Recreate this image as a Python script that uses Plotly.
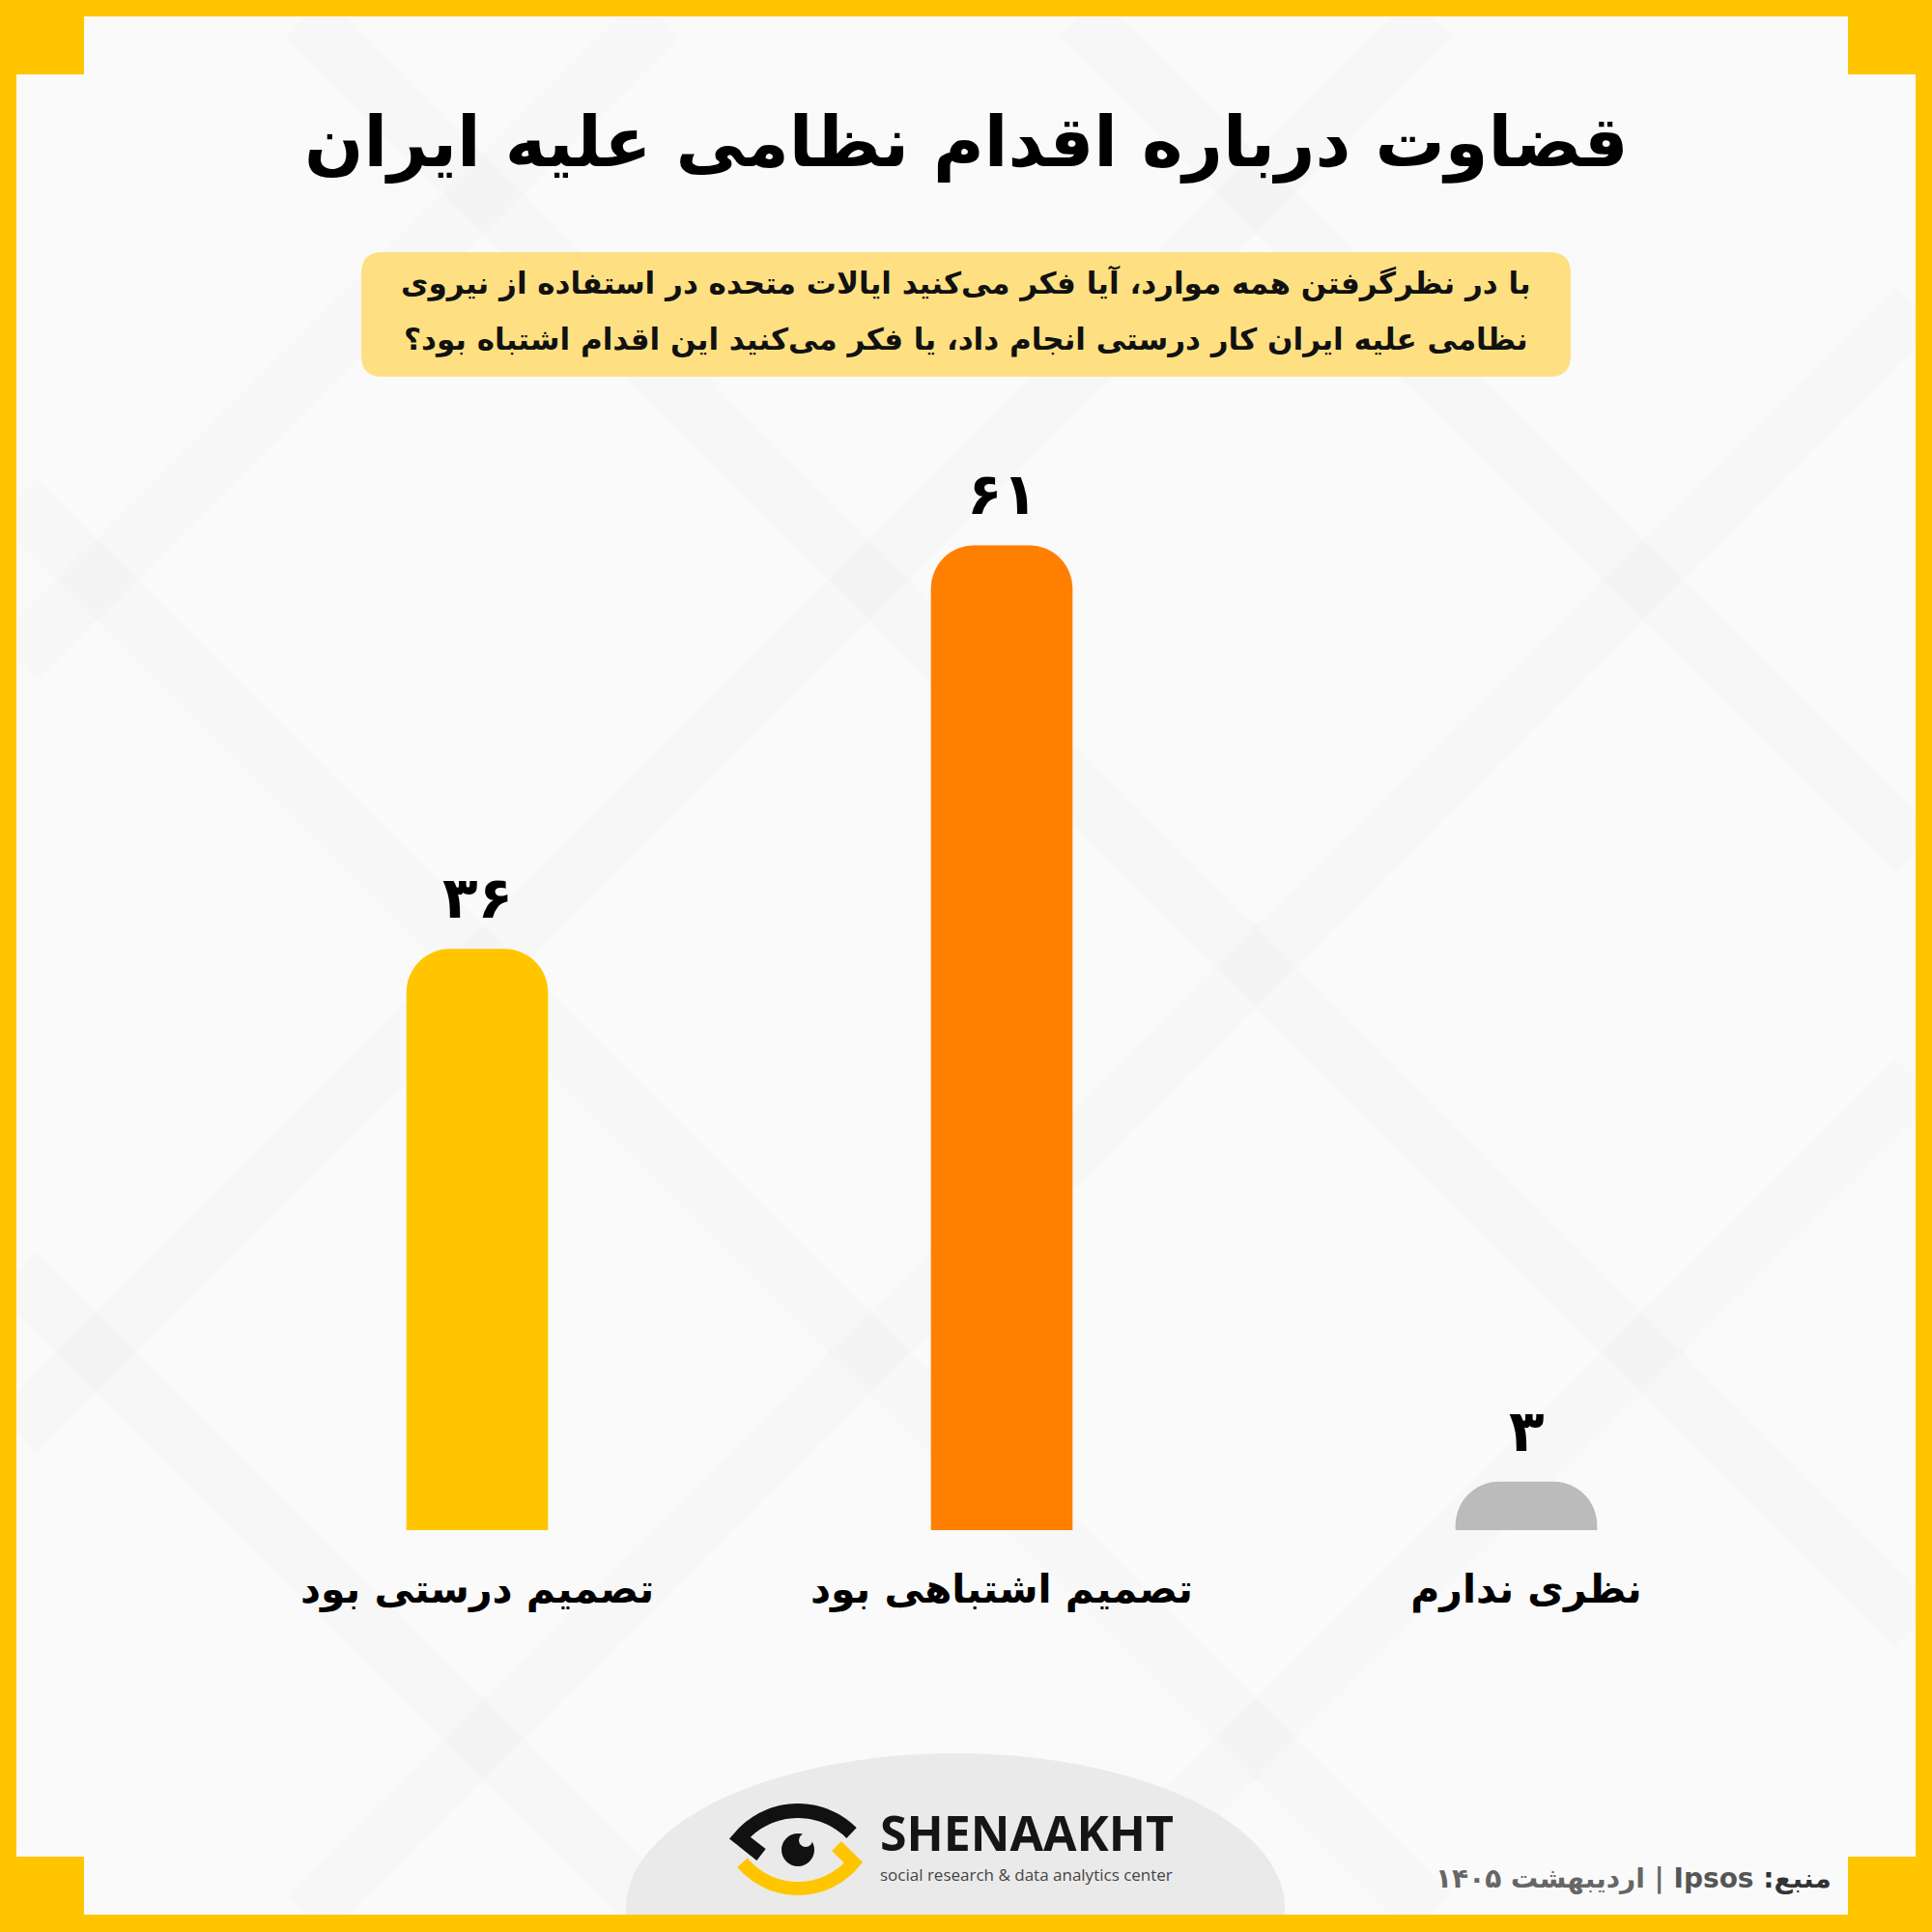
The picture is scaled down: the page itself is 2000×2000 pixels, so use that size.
import numpy as np
import plotly.graph_objects as go

# ---------------- data ----------------
categories = ["تصمیم درستی بود", "تصمیم اشتباهی بود", "نظری ندارم"]
values = [36, 61, 3]
bar_colors = ["#FFC600", "#FF8000", "#BBBBBB"]

title_text = "قضاوت درباره اقدام نظامی علیه ایران"
question_line1 = "با در نظر\u200cگرفتن همه موارد، آیا فکر می\u200cکنید ایالات متحده در استفاده از نیروی"
question_line2 = "نظامی علیه ایران کار درستی انجام داد، یا فکر می\u200cکنید این اقدام اشتباه بود؟\u200f"
source_text = ("<span style='color:#666666'><b>اردیبهشت ۱۴۰۵ | </b></span>"
               "<span style='color:#555555'><b>Ipsos</b></span>"
               "<span style='color:#333333'><b> :منبع</b></span>")
brand_name = "SHENAAKHT"
brand_sub = "social research & data analytics center"

W = H = 2000
YELLOW = "#FFC600"
BG = "#FAFAFA"
FA = "DejaVu Sans"


def fa_digits(n):
    return str(n).translate(str.maketrans("0123456789", "۰۱۲۳۴۵۶۷۸۹"))


def px(x):
    return x / W


def py(y):
    return 1 - y / H


def rect(x0, y0, x1, y1, color, layer="below"):
    return dict(type="rect", xref="paper", yref="paper", x0=px(x0), x1=px(x1),
                y0=py(y1), y1=py(y0), fillcolor=color, line=dict(width=0), layer=layer)


def path_from(points, close=False):
    s = "M " + " L ".join(f"{px(x):.5f},{py(y):.5f}" for x, y in points)
    return s + (" Z" if close else "")


shapes = []
# white card (cross shape)
shapes.append(rect(17, 77, 1983, 1922, BG))
shapes.append(rect(87, 17, 1913, 1982, BG))

# very faint diagonal background bands
X0, X1, Y0, Y1 = 17, 1983, 17, 1982
band = "rgba(0,0,0,0.011)"
for c in [-1300, -500, 300, 1100]:
    xa, xb = max(X0, Y0 + c), min(X1, Y1 + c)
    if xa < xb:
        shapes.append(dict(type="line", xref="paper", yref="paper", x0=px(xa), y0=py(xa - c),
                           x1=px(xb), y1=py(xb - c), line=dict(color=band, width=60),
                           layer="below"))
for c in [700, 1500, 2300, 3100]:
    xa, xb = max(X0, c - Y1), min(X1, c - Y0)
    if xa < xb:
        shapes.append(dict(type="line", xref="paper", yref="paper", x0=px(xa), y0=py(c - xa),
                           x1=px(xb), y1=py(c - xb), line=dict(color=band, width=60),
                           layer="below"))

# yellow frame pieces over the bands
for (a, b, c2, d) in [(0, 0, 87, 77), (1913, 0, 2000, 77), (0, 1922, 87, 2000), (1913, 1922, 2000, 2000),
                      (0, 0, 2000, 17), (0, 0, 17, 2000), (1983, 0, 2000, 2000)]:
    shapes.append(rect(a, b, c2, d, YELLOW))

# footer ellipse
shapes.append(dict(type="circle", xref="paper", yref="paper", x0=px(648), x1=px(1330),
                   y0=py(2135), y1=py(1815), fillcolor="#EAEAEA", line=dict(width=0), layer="below"))
shapes.append(rect(0, 1982, 2000, 2000, YELLOW))

# question box (rounded)
bx0, by0, bx1, by1, r = 374, 261, 1626, 390, 22
box_path = (f"M {px(bx0 + r)},{py(by0)} L {px(bx1 - r)},{py(by0)} "
            f"Q {px(bx1)},{py(by0)} {px(bx1)},{py(by0 + r)} L {px(bx1)},{py(by1 - r)} "
            f"Q {px(bx1)},{py(by1)} {px(bx1 - r)},{py(by1)} L {px(bx0 + r)},{py(by1)} "
            f"Q {px(bx0)},{py(by1)} {px(bx0)},{py(by1 - r)} L {px(bx0)},{py(by0 + r)} "
            f"Q {px(bx0)},{py(by0)} {px(bx0 + r)},{py(by0)} Z")
shapes.append(dict(type="path", xref="paper", yref="paper", path=box_path,
                   fillcolor="#FEE083", line=dict(width=0), layer="below"))

# eye logo
cx, cy, rm = 826, 1953, 78.5
t = np.radians(np.linspace(140, 45, 40))
top_pts = [(788, 1920)] + [(cx + rm * np.cos(a), cy - rm * np.sin(a)) for a in t]
shapes.append(dict(type="path", xref="paper", yref="paper", path=path_from(top_pts),
                   line=dict(color="#111111", width=15), layer="above"))
cy2, rm2 = 1880, 75
t2 = np.radians(np.linspace(220, 320, 40))
bot_pts = [(cx + rm2 * np.cos(a), cy2 - rm2 * np.sin(a)) for a in t2] + [(866, 1911)]
shapes.append(dict(type="path", xref="paper", yref="paper", path=path_from(bot_pts),
                   line=dict(color=YELLOW, width=14), layer="above"))
shapes.append(dict(type="circle", xref="paper", yref="paper", x0=px(809), x1=px(843),
                   y0=py(1932), y1=py(1898), fillcolor="#111111", line=dict(width=0), layer="above"))
shapes.append(dict(type="circle", xref="paper", yref="paper", x0=px(827), x1=px(841),
                   y0=py(1912), y1=py(1898), fillcolor="#EAEAEA", line=dict(width=0), layer="above"))

fig = go.Figure()
fig.add_trace(go.Bar(x=categories, y=values, width=0.27, marker=dict(color=bar_colors, line=dict(width=0)),
                     hoverinfo="skip"))

annotations = []
annotations.append(dict(text=f"<b>{title_text}</b>", xref="paper", yref="paper", x=0.5, y=py(148),
                        xanchor="center", yanchor="middle", showarrow=False,
                        font=dict(family=FA, size=72, color="#000000")))
annotations.append(dict(text=f"<b>{question_line1}</b>", xref="paper", yref="paper", x=0.5, y=py(293),
                        xanchor="center", yanchor="middle", showarrow=False,
                        font=dict(family=FA, size=31, color="#111111")))
annotations.append(dict(text=f"<b>{question_line2}</b>", xref="paper", yref="paper", x=0.5, y=py(351),
                        xanchor="center", yanchor="middle", showarrow=False,
                        font=dict(family=FA, size=31, color="#111111")))
for cat, v in zip(categories, values):
    annotations.append(dict(text=f"<b>{fa_digits(v)}</b>", x=cat, y=v, xref="x", yref="y",
                            xanchor="center", yanchor="middle", yshift=53, showarrow=False,
                            font=dict(family=FA, size=60, color="#000000")))
brand_html = (f"<span style='font-size:50px;font-weight:bold;color:#151515'>{brand_name}</span><br>"
              f"<span style='font-size:17px;color:#444444'>{brand_sub}</span>")
annotations.append(dict(text=brand_html, xref="paper", yref="paper", x=px(909), y=py(1907),
                        xanchor="left", yanchor="middle", align="left", showarrow=False,
                        font=dict(family="Open Sans", size=24, color="#151515")))
annotations.append(dict(text=source_text, xref="paper", yref="paper", x=px(1898), y=py(1944),
                        xanchor="right", yanchor="middle", showarrow=False,
                        font=dict(family=FA, size=28, color="#555555")))

fig.update_layout(
    width=W, height=H, margin=dict(l=0, r=0, t=0, b=0),
    paper_bgcolor=YELLOW, plot_bgcolor="rgba(0,0,0,0)",
    showlegend=False, barcornerradius=45,
    shapes=shapes, annotations=annotations,
    xaxis=dict(domain=[222.5 / W, 1851.5 / W], range=[-0.5, 2.5], type="category",
               showgrid=False, zeroline=False, showline=False, ticks="", tickangle=0,
               ticklabelstandoff=33,
               tickfont=dict(family=FA, size=41, color="#000000", weight="bold")),
    yaxis=dict(domain=[py(1584), py(414)], range=[0, 70], showgrid=False, zeroline=False,
               showline=False, showticklabels=False),
)

fig.write_html("out.html")
